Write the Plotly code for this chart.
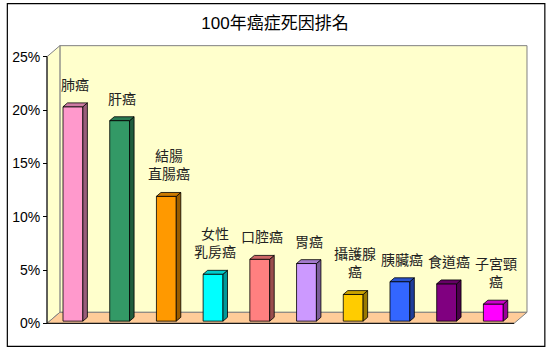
import plotly.graph_objects as go

# ---------------- data ----------------
categories = ["肺癌", "肝癌", "結腸<br>直腸癌", "女性<br>乳房癌", "口腔癌",
              "胃癌", "攝護腺<br>癌", "胰臟癌", "食道癌", "子宮頸<br>癌"]
values = [20.1, 18.8, 11.7, 4.4, 5.8, 5.4, 2.5, 3.7, 3.5, 1.6]
tick_vals = [0, 5, 10, 15, 20, 25]
tick_text = ["0%", "5%", "10%", "15%", "20%", "25%"]
title_text = "100年癌症死因排名"

front_colors = ["#FF99CC", "#339966", "#FF9900", "#00FFFF", "#FF8080",
                "#CC99FF", "#FFCC00", "#3366FF", "#800080", "#FF00FF"]
top_colors = ["#CC7AA3", "#297A52", "#CC7A00", "#00CCCC", "#CC6666",
              "#A37ACC", "#CCA300", "#2952CC", "#660066", "#CC00CC"]
side_colors = ["#995C7A", "#1F5C3D", "#995C00", "#009999", "#994D4D",
               "#7A5C99", "#997A00", "#1F3D99", "#4D004D", "#990099"]

# ---------------- geometry (pixel mapping) ----------------
W, H = 548, 350
PXX = 47.1    # px per category
PYY = 10.64   # px per percent
X0PX, Y0PX = 43, 323
DX = 13 / PXX      # depth offset in x units
DY = 11 / PYY      # depth offset in y units
F0, F1 = 0.2, 0.55  # bar depth position fractions
BW = 0.425
N = len(values)

xlo, xhi = -0.5 - 0.15, N - 0.5 + DX + 0.15
ylo, yhi = -0.25, 25 + DY + 0.25


def xpx(x):
    return X0PX + (x + 0.5) * PXX


def ypx(y):
    return Y0PX - y * PYY


ml = xpx(xlo)
mr = W - xpx(xhi)
mt = ypx(yhi)
mb = H - ypx(ylo)
pw = W - ml - mr
ph = H - mt - mb

fig = go.Figure()

# front faces
xs = [i + F0 * DX for i in range(N)]
fig.add_trace(go.Bar(
    x=xs, y=values, base=[F0 * DY] * N, width=BW,
    marker=dict(color=front_colors, line=dict(color="#000000", width=0.8)),
    hoverinfo="skip", showlegend=False))

dd_x = (F1 - F0) * DX
dd_y = (F1 - F0) * DY
for i, v in enumerate(values):
    xc = xs[i]
    x1 = xc + BW / 2
    x0 = xc - BW / 2
    yb = F0 * DY
    yt = F0 * DY + v
    # side
    fig.add_trace(go.Scatter(
        x=[x1, x1, x1 + dd_x, x1 + dd_x, x1],
        y=[yb, yt, yt + dd_y, yb + dd_y, yb],
        mode="lines", fill="toself", fillcolor=side_colors[i],
        line=dict(color="#000000", width=0.8), hoverinfo="skip", showlegend=False))
    # top
    fig.add_trace(go.Scatter(
        x=[x0, x1, x1 + dd_x, x0 + dd_x, x0],
        y=[yt, yt, yt + dd_y, yt + dd_y, yt],
        mode="lines", fill="toself", fillcolor=top_colors[i],
        line=dict(color="#000000", width=0.8), hoverinfo="skip", showlegend=False))

# labels
annotations = []
for i, v in enumerate(values):
    annotations.append(dict(
        x=i + (F0 + F1) / 2 * DX, y=v + F0 * DY, xref="x", yref="y",
        text=categories[i], showarrow=False, yanchor="bottom", xanchor="center",
        yshift=11, align="center",
        font=dict(family="Noto Sans CJK TC, Liberation Sans", size=14, color="#222222")))

# walls / floor
L = -0.5
R = N - 0.5
shapes = [
    # back wall
    dict(type="rect", xref="x", yref="y", x0=L + DX, x1=R + DX, y0=DY, y1=25 + DY,
         fillcolor="#FFFFCC", line=dict(color="#808080", width=1), layer="below"),
    # left wall
    dict(type="path", xref="x", yref="y",
         path=f"M {L},{0} L {L},{25} L {L + DX},{25 + DY} L {L + DX},{DY} Z",
         fillcolor="#FFFFCC", line=dict(color="#808080", width=1), layer="below"),
    # floor
    dict(type="path", xref="x", yref="y",
         path=f"M {L},{0} L {R},{0} L {R + DX},{DY} L {L + DX},{DY} Z",
         fillcolor="#FFCC99", line=dict(color="#808080", width=1), layer="below"),
    # front axis lines
    dict(type="line", xref="x", yref="y", x0=L, x1=L, y0=0, y1=25,
         line=dict(color="#000000", width=1), layer="below"),
    dict(type="line", xref="x", yref="y", x0=L, x1=R, y0=0, y1=0,
         line=dict(color="#000000", width=1), layer="below"),
    # outer chart border
    dict(type="rect", xref="paper", yref="paper",
         x0=(3 - ml) / pw, x1=(545 - ml) / pw,
         y0=(H - 346 - mb) / ph, y1=(H - 4 - mb) / ph,
         line=dict(color="#000000", width=1.2), fillcolor="rgba(0,0,0,0)", layer="above"),
]

fig.update_layout(
    width=W, height=H,
    margin=dict(l=ml, r=mr, t=mt, b=mb, pad=0),
    paper_bgcolor="#FFFFFF", plot_bgcolor="#FFFFFF",
    showlegend=False,
    title=dict(text=title_text, x=275 / W, xanchor="center", y=1 - 23 / H, yanchor="middle",
               font=dict(family="Liberation Sans, Noto Sans CJK TC", size=17, color="#000000")),
    xaxis=dict(range=[xlo, xhi], visible=False, fixedrange=True),
    yaxis=dict(range=[ylo, yhi], anchor="free", position=(X0PX - ml) / pw,
               tickvals=tick_vals, ticktext=tick_text, ticks="outside", ticklen=4,
               tickcolor="#000000", showline=False, showgrid=False, zeroline=False,
               tickfont=dict(family="Liberation Sans, Arial", size=14, color="#000000"),
               fixedrange=True),
    shapes=shapes,
    annotations=annotations,
)

fig.write_html("out.html")
